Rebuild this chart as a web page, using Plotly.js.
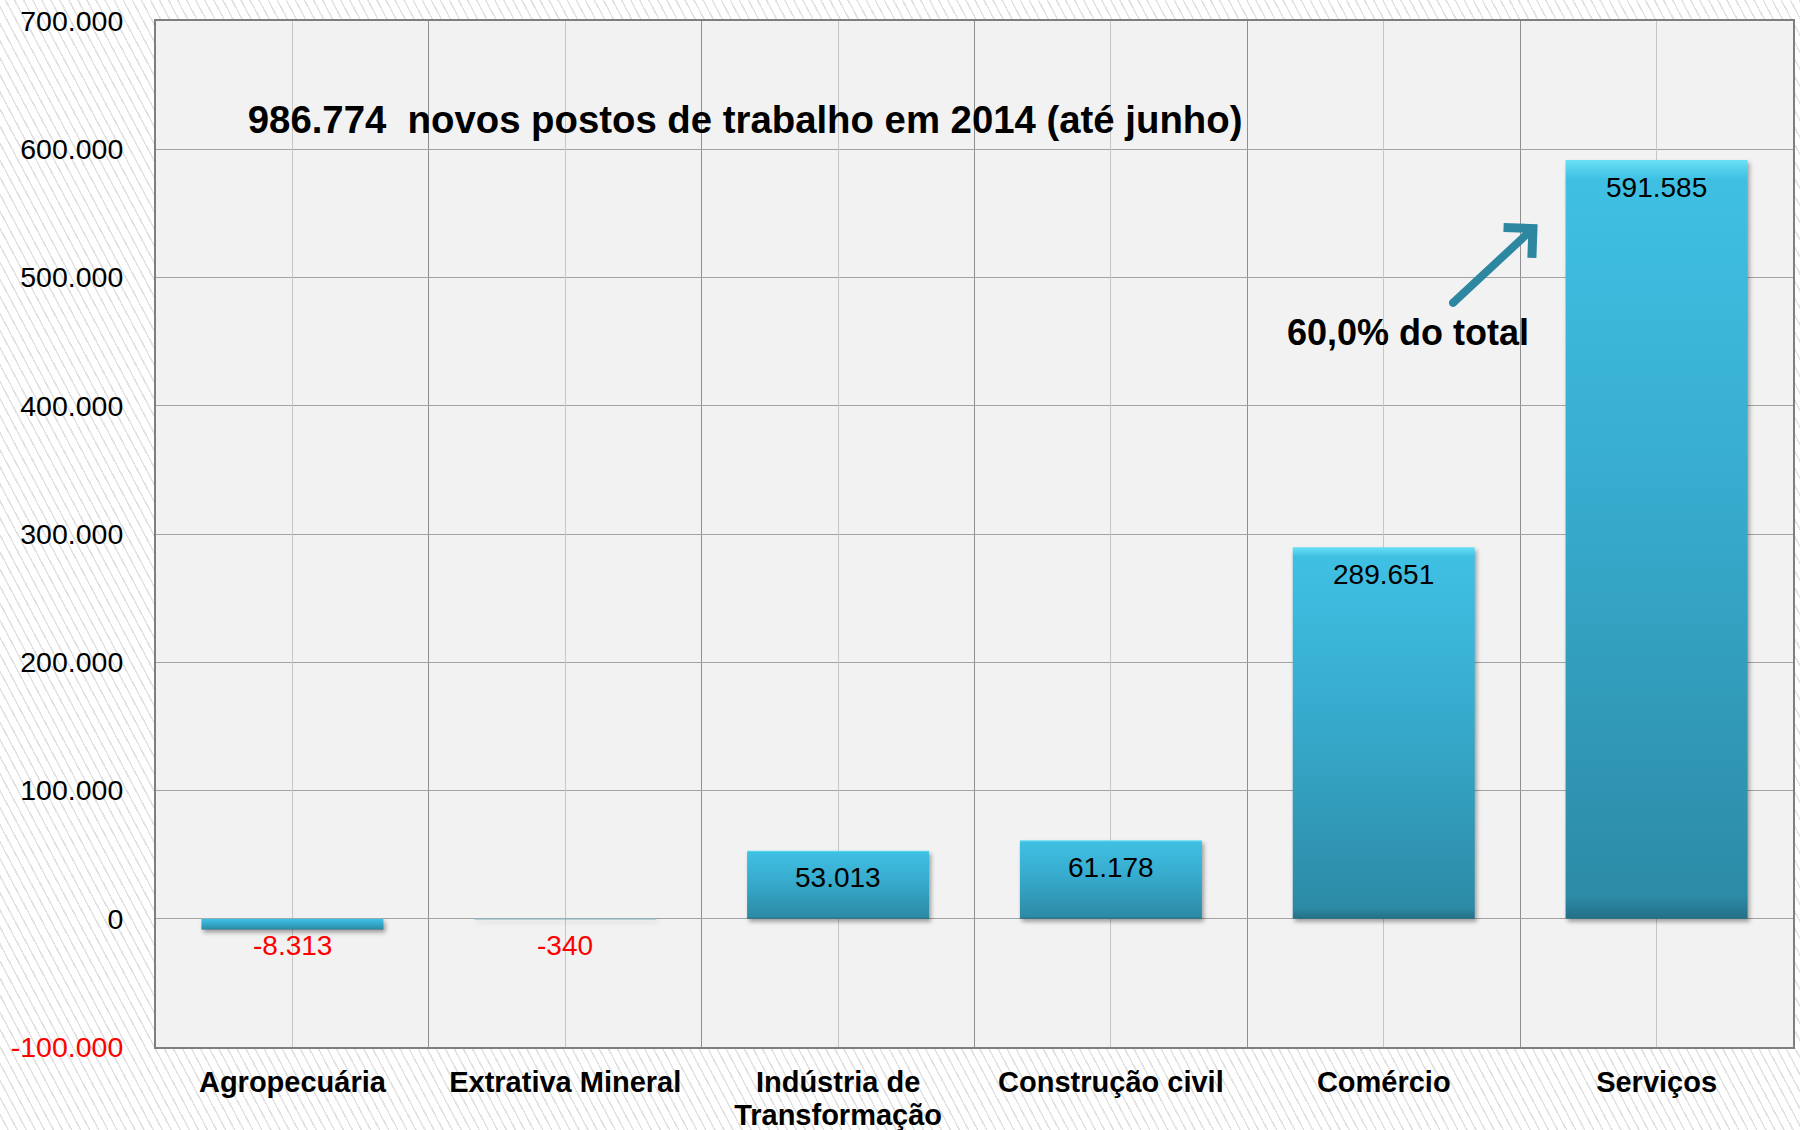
<!DOCTYPE html>
<html>
<head>
<meta charset="utf-8">
<script src="https://cdn.plot.ly/plotly-3.0.1.min.js"></script>
<style>
  html, body { margin: 0; padding: 0; }
  body {
    width: 1800px; height: 1130px; overflow: hidden;
    background-color: #ffffff;
    background-image: repeating-linear-gradient(62deg, #ffffff 0px, #ffffff 6.5px, #e2e2e2 6.5px, #e2e2e2 8px);
  }
  #chart { width: 1800px; height: 1130px; }
</style>
</head>
<body>
<div id="chart"></div>
<script>
// ---- data ----
const categories = ['Agropecuária', 'Extrativa Mineral', 'Indústria de<br>Transformação', 'Construção civil', 'Comércio', 'Serviços'];
const values = [-8313, -340, 53013, 61178, 289651, 591585];
const yTickVals = [-100000, 0, 100000, 200000, 300000, 400000, 500000, 600000, 700000];
const yTickText = ['<span style="color:#ff0000">-100.000</span>', '0', '100.000', '200.000', '300.000', '400.000', '500.000', '600.000', '700.000'];
const titleText = '986.774  novos postos de trabalho em 2014 (até junho)';
const noteText = '60,0% do total';

const FONT = 'Liberation Sans, Arial, sans-serif';
function fmt(v) {
  const s = Math.abs(v).toString().replace(/\B(?=(\d{3})+(?!\d))/g, '.');
  return (v < 0 ? '-' : '') + s;
}

const traces = [
  {
    type: 'bar', x: categories, y: values, xaxis: 'x', yaxis: 'y',
    marker: { color: '#37abcc', line: { width: 0 } },
    hoverinfo: 'skip'
  },
  {
    type: 'scatter', mode: 'markers', x: categories, y: values, xaxis: 'x2', yaxis: 'y',
    marker: { opacity: 0, size: 1 }, hoverinfo: 'skip', showlegend: false
  }
];

const annotations = values.map((v, i) => ({
  x: categories[i], y: Math.max(v, 0), xref: 'x', yref: 'y',
  yshift: -27, yanchor: 'middle', xanchor: 'center',
  text: fmt(v), showarrow: false,
  font: { family: FONT, size: 28, color: v < 0 ? '#ff0000' : '#000000' }
}));

annotations.push({
  xref: 'paper', yref: 'paper', x: 0.3595, y: 0.9035, xanchor: 'center', yanchor: 'middle',
  text: '<b>' + titleText + '</b>', showarrow: false, name: 'title',
  font: { family: FONT, size: 38, color: '#000000' }
});
annotations.push({
  xref: 'paper', yref: 'paper', x: 0.765, y: 0.696, xanchor: 'center', yanchor: 'middle',
  text: '<b>' + noteText + '</b>', showarrow: false,
  font: { family: FONT, size: 36, color: '#000000' }
});
annotations.push({
  xref: 'paper', yref: 'paper', x: 0.844, y: 0.802, text: '',
  showarrow: true, axref: 'pixel', ayref: 'pixel', ax: -86, ay: 80,
  arrowhead: 4, arrowsize: 1, arrowwidth: 8, arrowcolor: '#2e87a0', standoff: 0
});

const layout = {
  width: 1800, height: 1130,
  margin: { l: 156, r: 7, t: 21, b: 83 },
  paper_bgcolor: 'rgba(0,0,0,0)',
  plot_bgcolor: '#f2f2f2',
  showlegend: false,
  bargap: 0.333,
  font: { family: FONT, color: '#000000' },
  xaxis: {
    type: 'category', range: [-0.5, 5.5], tickson: 'boundaries',
    showgrid: true, gridcolor: '#8f8f8f', gridwidth: 1,
    showline: true, mirror: true, linecolor: '#7f7f7f', linewidth: 2,
    ticks: '', ticklabelstandoff: 8,
    tickfont: { family: FONT, size: 29, color: '#000000', weight: 'bold' },
    fixedrange: true
  },
  xaxis2: {
    type: 'category', overlaying: 'x', range: [-0.5, 5.5],
    showgrid: true, gridcolor: '#c6c6c6', gridwidth: 1,
    showticklabels: false, ticks: '', showline: false, zeroline: false
  },
  yaxis: {
    range: [-100000, 700000], tickvals: yTickVals, ticktext: yTickText,
    showgrid: true, gridcolor: '#a3a3a3', gridwidth: 1,
    zeroline: true, zerolinecolor: '#a3a3a3', zerolinewidth: 1,
    showline: true, mirror: true, linecolor: '#7f7f7f', linewidth: 2,
    ticks: '', ticklabelstandoff: 25,
    tickfont: { family: FONT, size: 28.5, color: '#000000' },
    fixedrange: true
  },
  annotations: annotations
};

Plotly.newPlot('chart', traces, layout, { displayModeBar: false, staticPlot: true }).then(gd => {
  const svg = gd.querySelector('.main-svg');
  const ns = 'http://www.w3.org/2000/svg';
  let defs = svg.querySelector('defs');
  if (!defs) { defs = document.createElementNS(ns, 'defs'); svg.insertBefore(defs, svg.firstChild); }
  const grad = document.createElementNS(ns, 'linearGradient');
  grad.setAttribute('id', 'barGrad');
  grad.setAttribute('x1', '0'); grad.setAttribute('y1', '0');
  grad.setAttribute('x2', '0'); grad.setAttribute('y2', '1');
  [['0', '#6ae0f6'], ['0.025', '#3fc0e3'], ['0.45', '#37abcd'], ['0.97', '#2c8ba7'], ['1', '#246f86']].forEach(([o, c]) => {
    const s = document.createElementNS(ns, 'stop');
    s.setAttribute('offset', o); s.setAttribute('stop-color', c);
    grad.appendChild(s);
  });
  defs.appendChild(grad);
  gd.querySelectorAll('.bars .point path').forEach(p => {
    p.style.fill = 'url(#barGrad)';
    p.style.filter = 'drop-shadow(2px 3px 2px rgba(0,0,0,0.35))';
  });
  // narrow the title horizontally like the reference's condensed face
  const annTexts = gd.querySelectorAll('.annotation .annotation-text');
  annTexts.forEach(t => {
    if (t.textContent.indexOf('novos postos') >= 0) {
      const bb = t.getBBox();
      const target = 995;
      const k = target / bb.width;
      const cx = bb.x + bb.width / 2;
      t.setAttribute('transform', 'translate(' + cx + ',0) scale(' + k + ',1) translate(' + (-cx) + ',0)');
    }
  });
  // slightly tighter spacing for the second line of the two-line category label
  gd.querySelectorAll('.xtick text').forEach(t => {
    const lines = t.querySelectorAll('tspan.line');
    lines.forEach((ts, i) => {
      if (i > 0) ts.setAttribute('dy', '1.15em');
    });
  });
  gd.querySelectorAll('.annotation path').forEach(p => {
    p.style.strokeLinecap = 'round';
    p.style.strokeLinejoin = 'round';
  });
});
</script>
</body>
</html>
